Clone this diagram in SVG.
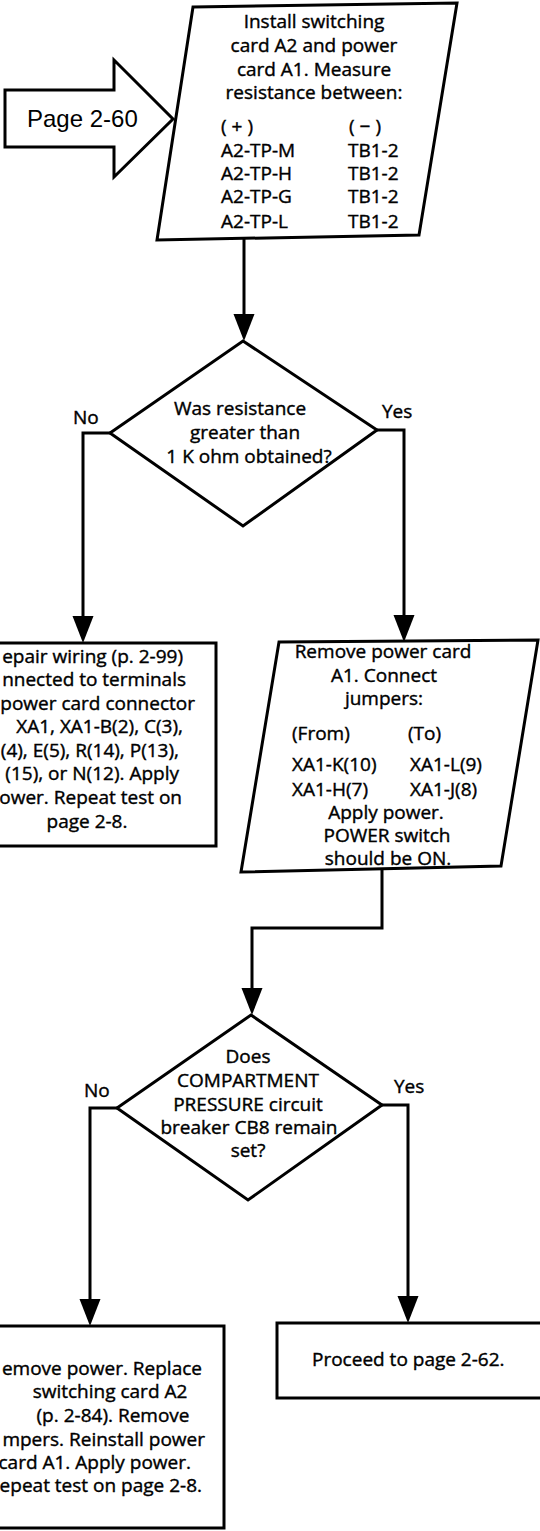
<svg xmlns="http://www.w3.org/2000/svg" width="540" height="1531" viewBox="0 0 540 1531">
<style>
.shape{fill:#fff;stroke:#000;stroke-width:3;stroke-linejoin:miter}
.t{font-family:"Open Sans","Liberation Sans",sans-serif;font-size:19px;fill:#000;stroke:#000;stroke-width:0.4}
.m{text-anchor:middle}
.e{text-anchor:end}
.pg{font-family:"Liberation Sans",Arial,sans-serif;font-size:24px;fill:#000}
.cn{fill:none;stroke:#000;stroke-width:3;marker-end:url(#ah)}
</style>
<defs>
<marker id="ah" markerUnits="userSpaceOnUse" markerWidth="28" markerHeight="22" viewBox="0 0 28 22" refX="0" refY="11" orient="auto" overflow="visible">
<path d="M0,0.5 L27,11 L0,21.5 z" fill="#000"/>
</marker>
</defs>
<rect x="0" y="0" width="540" height="1531" fill="#fff"/>

<g id="connectors">
<path class="cn" d="M244,238 V314"/>
<path class="cn" d="M110,433 H83 V616"/>
<path class="cn" d="M377,430 H404 V615"/>
<path class="cn" d="M382,870 V928 H252 V988"/>
<path class="cn" d="M117,1108 H90 V1299"/>
<path class="cn" d="M382,1105 H408 V1296"/>
</g>

<g id="start">
<polygon class="shape" points="5,90 114,90 114,60 173,119 114,177 114,147 5,147"/>
<text class="pg" x="27" y="127">Page 2-60</text>
</g>

<g id="measure">
<polygon class="shape" points="193,7 457,3 419,235 157,240"/>
<text class="t m" x="314" y="28">Install switching</text>
<text class="t m" x="314" y="52">card A2 and power</text>
<text class="t m" x="314" y="76">card A1. Measure</text>
<text class="t m" x="314" y="99">resistance between:</text>
<text class="t" x="221" y="133" letter-spacing="5">(+)</text>
<text class="t" x="349" y="133" letter-spacing="5">(−)</text>
<text class="t" x="221" y="157">A2-TP-M</text>
<text class="t" x="348" y="157">TB1-2</text>
<text class="t" x="221" y="180">A2-TP-H</text>
<text class="t" x="348" y="180">TB1-2</text>
<text class="t" x="221" y="203">A2-TP-G</text>
<text class="t" x="348" y="203">TB1-2</text>
<text class="t" x="221" y="228">A2-TP-L</text>
<text class="t" x="348" y="228">TB1-2</text>
</g>

<g id="decision1">
<polygon class="shape" points="243,341 377,430 243,526 110,433"/>
<text class="t m" x="240" y="415">Was resistance</text>
<text class="t m" x="245" y="439">greater than</text>
<text class="t m" x="249" y="463">1 K ohm obtained?</text>
<text class="t" x="73" y="424">No</text>
<text class="t" x="382" y="418">Yes</text>
</g>

<g id="repair">
<rect class="shape" x="-10" y="643" width="226" height="203"/>
<text class="t e" x="183" y="663">epair wiring (p. 2-99)</text>
<text class="t e" x="186" y="686">nnected to terminals</text>
<text class="t e" x="195" y="710">power card connector</text>
<text class="t e" x="183" y="733">XA1, XA1-B(2), C(3),</text>
<text class="t e" x="179" y="757">(4), E(5), R(14), P(13),</text>
<text class="t e" x="179" y="780">(15), or N(12). Apply</text>
<text class="t e" x="182" y="804">ower. Repeat test on</text>
<text class="t m" x="87" y="828">page 2-8.</text>
</g>

<g id="jumpers">
<polygon class="shape" points="279,642 538,640 501,866 241,872"/>
<text class="t m" x="383" y="658">Remove power card</text>
<text class="t m" x="384" y="682">A1. Connect</text>
<text class="t m" x="384" y="705">jumpers:</text>
<text class="t" x="292" y="740">(From)</text>
<text class="t" x="408" y="740">(To)</text>
<text class="t" x="292" y="771">XA1-K(10)</text>
<text class="t" x="410" y="771">XA1-L(9)</text>
<text class="t" x="292" y="796">XA1-H(7)</text>
<text class="t" x="410" y="796">XA1-J(8)</text>
<text class="t m" x="386" y="819">Apply power.</text>
<text class="t m" x="387" y="842">POWER switch</text>
<text class="t m" x="388" y="865">should be ON.</text>
</g>

<g id="decision2">
<polygon class="shape" points="251,1015 382,1105 248,1200 117,1108"/>
<text class="t m" x="248" y="1063">Does</text>
<text class="t m" x="248" y="1087">COMPARTMENT</text>
<text class="t m" x="248" y="1111">PRESSURE circuit</text>
<text class="t m" x="249" y="1134">breaker CB8 remain</text>
<text class="t m" x="248" y="1157">set?</text>
<text class="t" x="84" y="1097">No</text>
<text class="t" x="394" y="1093">Yes</text>
</g>

<g id="replace">
<rect class="shape" x="-10" y="1326" width="234" height="202"/>
<text class="t e" x="202" y="1375">emove power. Replace</text>
<text class="t m" x="110" y="1398">switching card A2</text>
<text class="t m" x="113" y="1422">(p. 2-84). Remove</text>
<text class="t e" x="205" y="1446">mpers. Reinstall power</text>
<text class="t e" x="191" y="1469">card A1. Apply power.</text>
<text class="t e" x="202" y="1492">epeat test on page 2-8.</text>
</g>

<g id="proceed">
<rect class="shape" x="277" y="1323" width="275" height="75"/>
<text class="t" x="312" y="1366">Proceed to page 2-62.</text>
</g>
</svg>
